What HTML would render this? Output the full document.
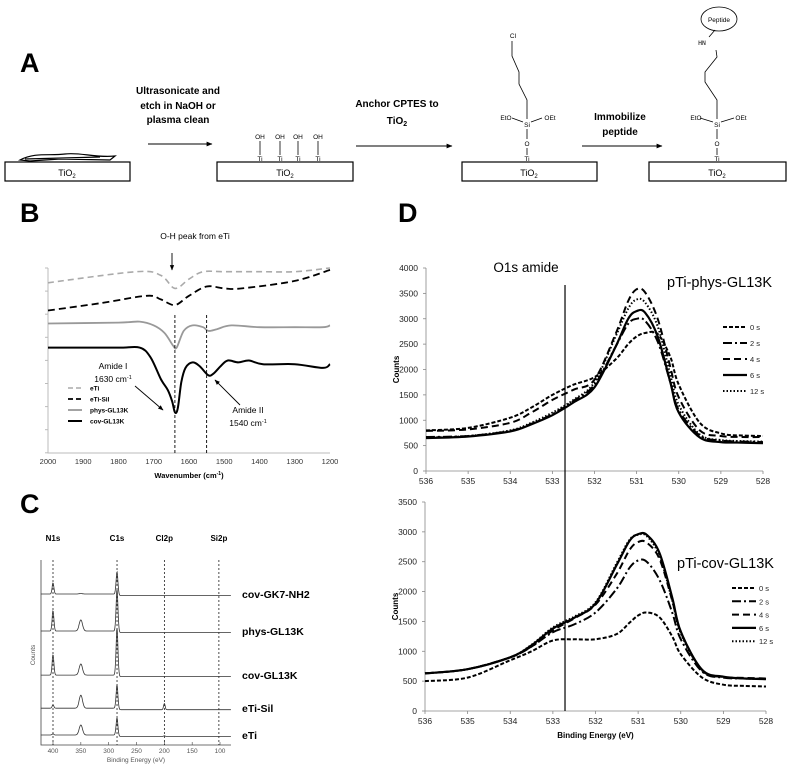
<!DOCTYPE html>
<html><head><meta charset="utf-8"><style>
html,body{margin:0;padding:0;background:#fff;}
svg{display:block;font-family:"Liberation Sans",sans-serif;}
</style></head><body>
<svg id="fig" width="800" height="770" viewBox="0 0 800 770" xmlns="http://www.w3.org/2000/svg">
<defs>
<marker id="ah" viewBox="0 0 10 10" refX="9" refY="5" markerWidth="6" markerHeight="6" orient="auto"><path d="M0,1 L10,5 L0,9 z" fill="#000"/></marker>
</defs>
<!-- Panel A -->
<g>
<text x="20" y="72" font-size="27" font-weight="bold">A</text>
<g font-size="10" font-weight="bold" text-anchor="middle">
<text x="178" y="94">Ultrasonicate and</text><text x="178" y="109">etch in NaOH or</text><text x="178" y="123">plasma clean</text>
<text x="397" y="107">Anchor CPTES to</text><text x="397" y="124">TiO<tspan font-size="7" dy="2">2</tspan></text>
<text x="620" y="120">Immobilize</text><text x="620" y="135">peptide</text>
</g>
<g stroke="#000" stroke-width="1">
<line x1="148" y1="144" x2="212" y2="144" marker-end="url(#ah)"/>
<line x1="356" y1="146" x2="452" y2="146" marker-end="url(#ah)"/>
<line x1="582" y1="146" x2="662" y2="146" marker-end="url(#ah)"/>
</g>
<g fill="none" stroke="#000" stroke-width="1.2">
<rect x="5" y="162" width="125" height="19"/><rect x="217" y="162" width="136" height="19"/>
<rect x="462" y="162" width="135" height="19"/><rect x="649" y="162" width="137" height="19"/>
</g>
<g font-size="9" text-anchor="middle">
<text x="67" y="176">TiO<tspan font-size="6" dy="2">2</tspan></text>
<text x="285" y="176">TiO<tspan font-size="6" dy="2">2</tspan></text>
<text x="529" y="176">TiO<tspan font-size="6" dy="2">2</tspan></text>
<text x="717" y="176">TiO<tspan font-size="6" dy="2">2</tspan></text>
</g>
<path d="M20,160 C35,152 50,156 65,154 C80,152 95,158 115,156 L110,160 L60,159 L30,161 Z M25,159 L100,157" fill="none" stroke="#000" stroke-width="1.2"/>
<g font-size="6.5" text-anchor="middle">
<text x="260" y="139">OH</text><text x="280" y="139">OH</text><text x="298" y="139">OH</text><text x="318" y="139">OH</text>
<text x="260" y="161">Ti</text><text x="280" y="161">Ti</text><text x="298" y="161">Ti</text><text x="318" y="161">Ti</text>
<g stroke="#000" stroke-width="0.8"><line x1="260" y1="141" x2="260" y2="155"/><line x1="280" y1="141" x2="280" y2="155"/><line x1="298" y1="141" x2="298" y2="155"/><line x1="318" y1="141" x2="318" y2="155"/></g>
</g>
<g font-size="6.5" text-anchor="middle">
<text x="513" y="38">Cl</text><text x="506" y="120">EtO</text><text x="550" y="120">OEt</text><text x="527" y="127">Si</text><text x="527" y="146">O</text><text x="527" y="161">Ti</text>
<path d="M527,119 L527,100 L519,84 L519,72 L512,56 L512,41 M512,118 L523,122 M531,122 L542,118 M527,129 L527,139 M527,148 L527,155" fill="none" stroke="#000" stroke-width="0.8"/>
</g>
<g font-size="6.5" text-anchor="middle">
<ellipse cx="719" cy="19" rx="18" ry="12" fill="none" stroke="#000" stroke-width="0.8"/>
<text x="719" y="22">Peptide</text><text x="702" y="45" font-family="Liberation Mono,monospace">HN</text>
<text x="696" y="120">EtO</text><text x="741" y="120">OEt</text><text x="717" y="127">Si</text><text x="717" y="146">O</text><text x="717" y="161">Ti</text>
<path d="M717,119 L717,100 L705,82 L705,72 L717,57 L716,50 M709,37 L715,30 M700,118 L713,122 M721,122 L734,118 M717,129 L717,139 M717,148 L717,155" fill="none" stroke="#000" stroke-width="0.8"/>
</g>
</g>
<g id="pb"></g>
<g id="pc"></g>
<g id="pd"></g>
</svg>
<script>
// ---------- Panel B data (FTIR) ----------
const bTicks = [2000,1900,1800,1700,1600,1500,1400,1300,1200];
const bETiX = [2000,1750,1680,1640,1600,1560,1500,1400,1300,1200];
const bETiY = [92,98,96,89,94,98,98,98,98,100];
const bSilX = [2000,1850,1720,1680,1640,1600,1550,1500,1450,1300,1200];
const bSilY = [77,81,85,83,80,85,90,89,89,93,99];
const bPhysX = [2000,1800,1740,1700,1670,1645,1635,1615,1590,1560,1545,1520,1480,1400,1300,1220,1200];
const bPhysY = [70,70.5,71,69,65,58,57,66,69,68,66,67,69,68,68,68,69];
const bCovX = [2000,1800,1740,1710,1680,1660,1648,1640,1632,1622,1610,1590,1570,1545,1530,1510,1490,1460,1430,1390,1300,1220,1200];
const bCovY = [57,57,57,52,40,34,28,22,24,38,46,49,47,42,43,47,50,49,50,48,48,46,48];
const bLegend = ["eTi","eTi-Sil","phys-GL13K","cov-GL13K"];

// ---------- Panel C data (XPS survey) ----------
const cTicks = [400,350,300,250,200,150,100];
const cSamples = ["cov-GK7-NH2","phys-GL13K","cov-GL13K","eTi-Sil","eTi"];
const cBaseline = [81.6,61.6,37.8,19.9,5.4];
const cPeakN1s = [6,11,11,1.7,0.6];
const cPeak350 = [0.3,6,6,7,5.4];
const cPeakC1s = [12,22.5,25.5,12.5,9.2];
const cPeakCl = [0,0,0,3.3,0.4];
const cElements = ["N1s","C1s","Cl2p","Si2p"];
const cElementE = [400,285,200,102];

// ---------- Panel D data (O1s high-res) ----------
const dX = [536,535,534,533.5,533,532.5,532,531.5,531.2,531,530.8,530.5,530.2,530,529.5,529,528.5,528];
const dTop0 = [800,850,1050,1250,1500,1700,1850,2200,2500,2650,2720,2700,2250,1700,950,740,700,690];
const dTop2 = [670,690,790,930,1120,1380,1700,2450,2900,3000,2960,2550,1750,1200,700,600,580,570];
const dTop4 = [790,820,950,1150,1400,1600,1800,2700,3350,3580,3520,3000,2050,1450,800,690,670,670];
const dTop6 = [650,680,780,920,1100,1350,1650,2450,3000,3150,3120,2650,1750,1150,660,570,560,550];
const dTop12 = [660,690,800,950,1150,1400,1750,2650,3200,3380,3320,2850,1900,1300,720,610,590,580];
const dBot0 = [500,560,850,1000,1180,1200,1200,1290,1480,1600,1650,1570,1250,950,560,440,420,410];
const dBot2 = [630,700,900,1080,1320,1450,1650,2050,2400,2520,2500,2200,1650,1200,660,560,545,540];
const dBot4 = [630,700,900,1080,1350,1550,1780,2300,2700,2830,2820,2550,1850,1320,680,570,555,545];
const dBot6 = [630,700,900,1100,1380,1560,1800,2450,2850,2960,2950,2650,1900,1330,690,575,545,535];
const dBot12 = [630,700,900,1110,1400,1580,1820,2480,2870,2950,2930,2600,1850,1300,680,570,545,535];
const dTopTicks = [0,500,1000,1500,2000,2500,3000,3500,4000];
const dBotTicks = [0,500,1000,1500,2000,2500,3000,3500];
const dXTicks = [536,535,534,533,532,531,530,529,528];
const dLegend = ["0 s","2 s","4 s","6 s","12 s"];
const dAmide = 532.7;

const NS = "http://www.w3.org/2000/svg";
function mk(parent, tag, attrs, text){
  const e = document.createElementNS(NS, tag);
  for (const k in attrs) e.setAttribute(k, attrs[k]);
  if (text !== undefined) e.textContent = text;
  parent.appendChild(e); return e;
}
function smooth(pts){
  let d = "M" + pts[0][0].toFixed(1) + "," + pts[0][1].toFixed(1);
  for (let i=0;i<pts.length-1;i++){
    const p0 = pts[Math.max(0,i-1)], p1 = pts[i], p2 = pts[i+1], p3 = pts[Math.min(pts.length-1,i+2)];
    const c1x = p1[0]+(p2[0]-p0[0])/6, c1y = p1[1]+(p2[1]-p0[1])/6;
    const c2x = p2[0]-(p3[0]-p1[0])/6, c2y = p2[1]-(p3[1]-p1[1])/6;
    d += " C"+c1x.toFixed(1)+","+c1y.toFixed(1)+" "+c2x.toFixed(1)+","+c2y.toFixed(1)+" "+p2[0].toFixed(1)+","+p2[1].toFixed(1);
  }
  return d;
}

// ===== Panel B =====
(function(){
  const g = document.getElementById('pb');
  const X = w => 48 + (2000 - w) * (282/800);
  const Y = v => 453 - v * 1.85;
  let t = mk(g,'text',{x:20,y:222,'font-size':27,'font-weight':'bold'},'B');
  
  
  let ax = mk(g,'path',{d:`M48,268 L48,453 L330,453`,fill:'none',stroke:'#bbb','stroke-width':1});
  
  
  for (let i=0;i<=8;i++){ mk(g,'line',{x1:45,x2:48,y1:268+i*23.1,y2:268+i*23.1,stroke:'#bbb'}); }
  bTicks.forEach(v=>{
    let tk = mk(g,'text',{x:X(v),y:464,'font-size':7.5,'text-anchor':'middle',fill:'#333'},String(v));
    
    
  });
  let xt = mk(g,'text',{x:189,y:478,'font-size':7.5,'font-weight':'bold','text-anchor':'middle'});
  xt.innerHTML = 'Wavenumber (cm<tspan font-size="5" dy="-3">-1</tspan><tspan dy="3">)</tspan>';
  
  
  const series = [[bETiX,bETiY,'#aaa','6,4',1.6],[bSilX,bSilY,'#000','7,4',1.8],[bPhysX,bPhysY,'#999','',1.8],[bCovX,bCovY,'#000','',2]];
  const names = ['eti-line','eti-sil-line','phys-gl13k-line','cov-gl13k-line'];
  series.forEach((s,i)=>{
    const p = mk(g,'path',{d:smooth(s[0].map((w,j)=>[X(w),Y(s[1][j])])),fill:'none',stroke:s[2],'stroke-width':s[4],'stroke-dasharray':s[3]});
    
    
    const ly = 388 + i*11;
    const l = mk(g,'line',{x1:68,x2:82,y1:ly,y2:ly,stroke:s[2],'stroke-width':s[4],'stroke-dasharray':s[3]?'5,3':''});
    
    
    const lt = mk(g,'text',{x:90,y:ly+2.5,'font-size':6.5,'font-weight':'bold'},bLegend[i]);
    
    
  });
  [1640,1550].forEach(w=>{
    const v = mk(g,'line',{x1:X(w),x2:X(w),y1:315,y2:453,stroke:'#000','stroke-width':0.9,'stroke-dasharray':'3,2'});
    
    
  });
  const ann = [["O-H peak from eTi",195,239],["Amide I",113,369],["Amide II",248,413]];
  ann.forEach(a=>{ const e=mk(g,'text',{x:a[1],y:a[2],'font-size':8.5,'text-anchor':'middle'},a[0]);
      });
  [[113,382,"1630 cm"],[248,426,"1540 cm"]].forEach(a=>{
    const e=mk(g,'text',{x:a[0],y:a[1],'font-size':8.5,'text-anchor':'middle'}); e.innerHTML=a[2]+'<tspan font-size="5.5" dy="-3">-1</tspan>';
      });
  [[172,253,172,270],[135,386,163,410],[240,405,215,380]].forEach(a=>{
    const e=mk(g,'line',{x1:a[0],y1:a[1],x2:a[2],y2:a[3],stroke:'#000','stroke-width':0.9,'marker-end':'url(#ah)'});
      });
})();

// ===== Panel C =====
(function(){
  const g = document.getElementById('pc');
  const X = e => 53 + (400 - e) * 0.5567;
  const Y = v => 745 - v * 1.85;
  let t = mk(g,'text',{x:20,y:513,'font-size':27,'font-weight':'bold'},'C');
  
  
  let ax = mk(g,'path',{d:'M41,560 L41,745 L231,745',fill:'none',stroke:'#444','stroke-width':0.8});
  
  
  cTicks.forEach(v=>{
    mk(g,'line',{x1:X(v),x2:X(v),y1:745,y2:742,stroke:'#444','stroke-width':0.6});
    const e = mk(g,'text',{x:X(v),y:753,'font-size':6.5,'text-anchor':'middle',fill:'#555'},String(v));
     
  });
  let xt = mk(g,'text',{x:136,y:762,'font-size':6.5,'text-anchor':'middle',fill:'#555'},'Binding Energy (eV)');
   
  let yt = mk(g,'text',{x:0,y:0,'font-size':6.5,'text-anchor':'middle',fill:'#555',transform:'translate(35,655) rotate(-90)'},'Counts');
   
  cElements.forEach((n,i)=>{
    const v = mk(g,'line',{x1:X(cElementE[i]),x2:X(cElementE[i]),y1:560,y2:745,stroke:'#000','stroke-width':0.7,'stroke-dasharray':'2,2'});
     
    const e = mk(g,'text',{x:X(cElementE[i]),y:541,'font-size':8,'font-weight':'bold','text-anchor':'middle'},n);
     
  });
  const peakE = [400,350,285,200], peakW = [1.6,3,1.7,1.4];
  cSamples.forEach((s,i)=>{
    const hs = [cPeakN1s[i],cPeak350[i],cPeakC1s[i],cPeakCl[i]];
    const pts=[];
    for (let e=422;e>=80;e-=0.7){
      let v = cBaseline[i] - (e<284?0.8:0);
      hs.forEach((h,k)=>{ const z=(e-peakE[k])/peakW[k]; v+=h*Math.exp(-z*z/2); });
      pts.push(X(e).toFixed(1)+','+Y(v).toFixed(1));
    }
    const p = mk(g,'polyline',{points:pts.join(' '),fill:'none',stroke:'#333','stroke-width':0.8});
    
    
    const e = mk(g,'text',{x:242,y:Y(cBaseline[i])+4,'font-size':10.5,'font-weight':'bold'},s);
     
  });
})();

// ===== Panel D =====
(function(){
  const g = document.getElementById('pd');
  let t = mk(g,'text',{x:398,y:222,'font-size':27,'font-weight':'bold'},'D');
   
  const styles = [['4,2',2],['9,3,2,3',2],['7,4',2],['',2.2],['1.5,2',2]];
  function chart(x0,x1,y0,yPer,ticks,series,title,tx,ty,legX,legY,legDy,name,withTitle){
    const X = e => x0 + (536 - e) * (x1-x0)/8;
    const Y = v => y0 - v * yPer;
    const yTop = Y(ticks[ticks.length-1]);
    const ax = mk(g,'path',{d:`M${x0},${yTop} L${x0},${y0} L${x1},${y0}`,fill:'none',stroke:'#888','stroke-width':0.8});
     
    ticks.forEach(v=>{
      mk(g,'line',{x1:x0-3,x2:x0,y1:Y(v),y2:Y(v),stroke:'#888','stroke-width':0.8});
      const e = mk(g,'text',{x:x0-8,y:Y(v)+3,'font-size':8.5,'text-anchor':'end',fill:'#222'},String(v));
       
    });
    dXTicks.forEach(v=>{
      mk(g,'line',{x1:X(v),x2:X(v),y1:y0,y2:y0+3,stroke:'#888','stroke-width':0.8});
      const e = mk(g,'text',{x:X(v),y:y0+13,'font-size':8.5,'text-anchor':'middle',fill:'#222'},String(v));
       
    });
    const yt = mk(g,'text',{x:0,y:0,'font-size':8,'font-weight':'bold','text-anchor':'middle',transform:`translate(${x0-5-30+8},${(yTop+y0)/2}) rotate(-90)`},'Counts');
     
    series.forEach((s,i)=>{
      const p = mk(g,'path',{d:smooth(dX.map((e,j)=>[X(e),Y(s[j])])),fill:'none',stroke:'#000','stroke-width':styles[i][1],'stroke-dasharray':styles[i][0]});
      
      
      const ly = legY + i*legDy;
      const l = mk(g,'line',{x1:legX,x2:legX+24,y1:ly,y2:ly,stroke:'#000','stroke-width':styles[i][1],'stroke-dasharray':styles[i][0]});
       
      const lt = mk(g,'text',{x:legX+27,y:ly+3,'font-size':7.5,fill:'#222'},dLegend[i]);
       
    });
    const tt = mk(g,'text',{x:tx,y:ty,'font-size':14.5},title);
     
    if (withTitle){
      const xt = mk(g,'text',{x:(x0+x1)/2,y:y0+27,'font-size':8,'font-weight':'bold','text-anchor':'middle'},'Binding Energy (eV)');
       
    }
    return X;
  }
  const Xt = chart(426,763,471,203/4000,dTopTicks,[dTop0,dTop2,dTop4,dTop6,dTop12],'pTi-phys-GL13K',667,287,723,327,16,'d-top',false);
  chart(425,766,711,209/3500,dBotTicks,[dBot0,dBot2,dBot4,dBot6,dBot12],'pTi-cov-GL13K',677,568,732,588,13.3,'d-bottom',true);
  const v = mk(g,'line',{x1:Xt(dAmide),x2:Xt(dAmide),y1:285,y2:711,stroke:'#000','stroke-width':1.2});
   
  const at = mk(g,'text',{x:Xt(dAmide)-39,y:272,'font-size':13.5,'text-anchor':'middle'},'O1s amide');
   
})();
</script>
</body></html>
